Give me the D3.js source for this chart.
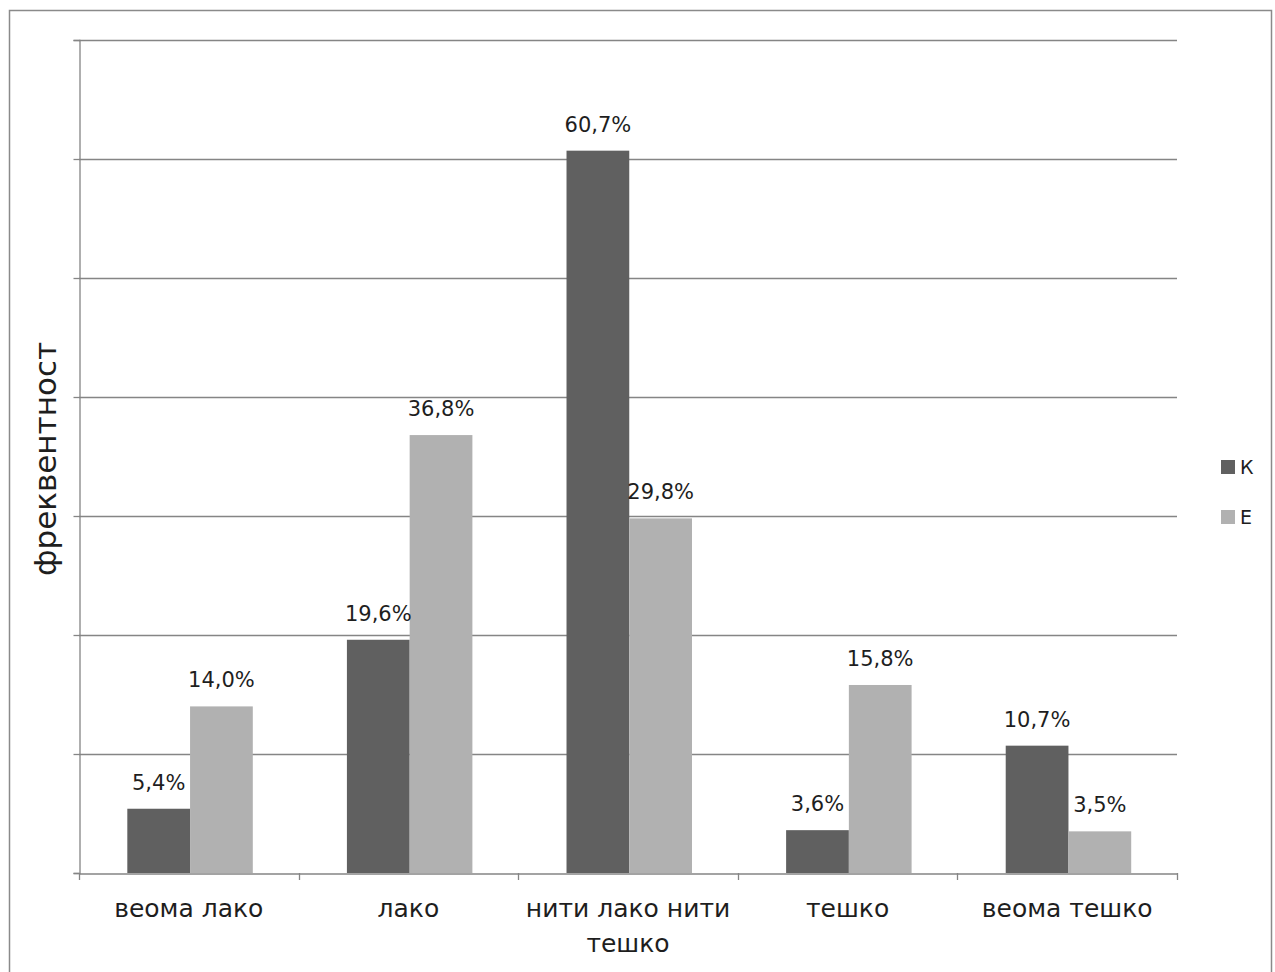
<!DOCTYPE html>
<html>
<head>
<meta charset="utf-8">
<script src="https://cdn.jsdelivr.net/npm/d3@7"></script>
<style>
  html, body { margin: 0; padding: 0; background: #fff; }
  svg { display: block; }
  text { font-family: "DejaVu Sans", Verdana, sans-serif; fill: #1e1e1e; }
</style>
</head>
<body>
<svg id="chart" width="1275" height="972"></svg>
<script>
// Survey answers: how easy/difficult, two respondent groups
const categories = ["веома лако", "лако", "нити лако нити тешко", "тешко", "веома тешко"];
const seriesNames = ["К", "Е"];
const valuesK = [5.4, 19.6, 60.7, 3.6, 10.7];
const valuesE = [14.0, 36.8, 29.8, 15.8, 3.5];
const yTicks = [0, 10, 20, 30, 40, 50, 60, 70];
const yTitle = "фреквентност";

const colors = { "К": "#606060", "Е": "#b1b1b1" };

const svg = d3.select("#chart");

// outer frame
svg.append("rect")
  .attr("x", 9.5).attr("y", 10.5)
  .attr("width", 1262).attr("height", 1000)
  .attr("fill", "none").attr("stroke", "#8a8a8a").attr("stroke-width", 1.5);

const plot = { left: 79, right: 1177, top: 40, bottom: 873 };

const x = d3.scaleBand().domain(categories).range([plot.left, plot.right]);
const inner = x.bandwidth() / 3.5; // 150% gap between clusters
const xs = d3.scaleBand().domain(seriesNames)
  .range([0.77 * inner, 2.77 * inner]);
const y = d3.scaleLinear().domain([0, 70]).range([plot.bottom, plot.top]);

// horizontal gridlines
svg.append("g").selectAll("line").data(yTicks.filter(d => d > 0)).join("line")
  .attr("x1", plot.left).attr("x2", plot.right)
  .attr("y1", d => Math.round(y(d)) + 0.5).attr("y2", d => Math.round(y(d)) + 0.5)
  .attr("stroke", "#858585").attr("stroke-width", 1.3);

// y axis with ticks, no labels
const yAxis = svg.append("g")
  .attr("transform", `translate(${plot.left + 0.5},0)`)
  .call(d3.axisLeft(y).tickValues(yTicks).tickSize(6).tickFormat(""));
yAxis.selectAll("line, path").attr("stroke", "#858585").attr("stroke-width", 1.3);

const series = seriesNames.map((name, i) => ({
  name,
  values: (i === 0 ? valuesK : valuesE)
}));

// bars
const gBars = svg.append("g");
series.forEach(s => {
  gBars.selectAll(null).data(categories).join("rect")
    .attr("x", (c) => x(c) + xs(s.name))
    .attr("width", xs.bandwidth())
    .attr("y", (c, i) => y(s.values[i]))
    .attr("height", (c, i) => y(0) - y(s.values[i]))
    .attr("fill", colors[s.name]);
});

// value labels
const fmt = v => d3.format(".1f")(v).replace(".", ",") + "%";
series.forEach(s => {
  svg.append("g").selectAll("text").data(categories).join("text")
    .attr("x", (c) => x(c) + xs(s.name) + xs.bandwidth() / 2)
    .attr("y", (c, i) => y(s.values[i]) - 19)
    .attr("text-anchor", "middle")
    .attr("font-size", 21)
    .text((c, i) => fmt(s.values[i]));
});

// x axis
const xAxis = svg.append("g")
  .attr("transform", `translate(0,${plot.bottom + 0.5})`)
  .call(d3.axisBottom(x).tickSize(0).tickFormat(""));
xAxis.select("path").attr("stroke", "#858585").attr("stroke-width", 1.3);
// category boundary ticks
svg.append("g").selectAll("line")
  .data(categories.map(c => x(c)).concat([plot.right]))
  .join("line")
  .attr("x1", d => Math.round(d) + 0.5).attr("x2", d => Math.round(d) + 0.5)
  .attr("y1", plot.bottom).attr("y2", plot.bottom + 7)
  .attr("stroke", "#858585").attr("stroke-width", 1.3);

// category labels (wrapped to fit band)
const lines = { "нити лако нити тешко": ["нити лако нити", "тешко"] };
svg.append("g").selectAll("text").data(categories).join("text")
  .attr("x", c => x(c) + x.bandwidth() / 2)
  .attr("y", 917)
  .attr("text-anchor", "middle")
  .attr("font-size", 25)
  .each(function (c) {
    const parts = lines[c] || [c];
    d3.select(this).selectAll("tspan").data(parts).join("tspan")
      .attr("x", x(c) + x.bandwidth() / 2)
      .attr("dy", (d, i) => i === 0 ? 0 : 35)
      .text(d => d);
  });

// y axis title
svg.append("text")
  .attr("transform", "translate(56,459) rotate(-90)")
  .attr("text-anchor", "middle")
  .attr("font-size", 31)
  .text(yTitle);

// legend
const legend = svg.append("g");
seriesNames.forEach((name, i) => {
  const ly = 460 + i * 50;
  legend.append("rect")
    .attr("x", 1221).attr("y", ly).attr("width", 14).attr("height", 14)
    .attr("fill", colors[name]);
  legend.append("text")
    .attr("x", 1240).attr("y", ly + 14)
    .attr("font-size", 19)
    .text(name);
});
</script>
</body>
</html>
